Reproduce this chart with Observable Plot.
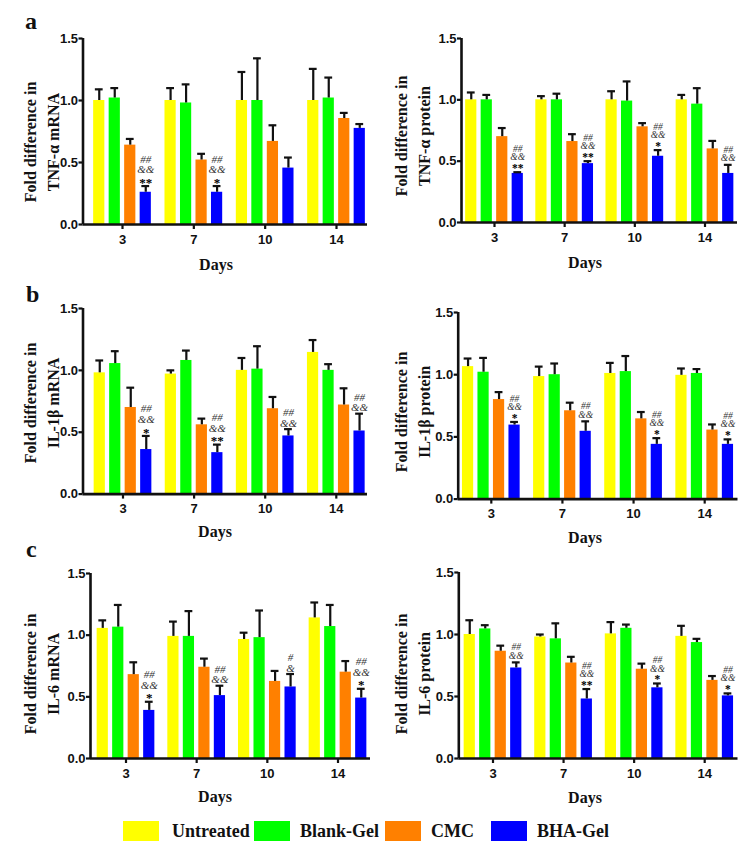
<!DOCTYPE html>
<html>
<head>
<meta charset="utf-8">
<script src="https://cdn.jsdelivr.net/npm/d3@7"></script>
<script src="https://cdn.jsdelivr.net/npm/@observablehq/plot@0.6"></script>
<style>
  html, body { margin: 0; padding: 0; background: #fff; }
  #root { position: relative; width: 751px; height: 850px; background: #fff; overflow: hidden; }
  .panel { position: absolute; }
  .panel svg g[aria-label="x-axis tick"], .panel svg g[aria-label="y-axis tick"] { stroke-width: 2.2px; }
  .txt { position: absolute; font-family: "Liberation Serif", "DejaVu Serif", serif; font-weight: bold; color: #111; white-space: nowrap; }
  .ytitle { font-size: 16px; line-height: 23px; text-align: center; transform: translate(-50%, -50%) rotate(-90deg); }
  .days { font-size: 16px; line-height: 18px; transform: translate(-50%, -50%); }
  .letter { font-size: 24px; line-height: 24px; }
  .sw { position: absolute; width: 36px; height: 20px; }
  .leg { font-size: 18px; line-height: 20px; }
</style>
</head>
<body>
<div id="root"></div>
<script>
// ---------- data ----------
const days = [3, 7, 10, 14];
const groups = ["Untreated", "Blank-Gel", "CMC", "BHA-Gel"];
const colors = ["#ffff00", "#00ff00", "#ff8000", "#0000ff"];
const yTicks = [0, 0.5, 1.0, 1.5];

// rows = days, columns = groups; *Err = top of error bar
const tnfMrnaMean = [[1.00, 1.02, 0.64, 0.26], [1.00, 0.98, 0.52, 0.26], [1.00, 1.00, 0.67, 0.455], [1.00, 1.02, 0.855, 0.775]];
const tnfMrnaErr  = [[1.09, 1.10, 0.69, 0.31], [1.10, 1.13, 0.57, 0.31], [1.23, 1.34, 0.80, 0.54], [1.255, 1.185, 0.90, 0.81]];
const tnfMrnaSig  = [["##", "&&", "**"], ["##", "&&", "*"], [], []];

const tnfProtMean = [[1.00, 1.00, 0.70, 0.40], [1.00, 1.00, 0.66, 0.48], [1.00, 0.99, 0.78, 0.54], [1.00, 0.965, 0.60, 0.40]];
const tnfProtErr  = [[1.06, 1.04, 0.77, 0.41], [1.03, 1.05, 0.72, 0.50], [1.07, 1.15, 0.81, 0.59], [1.04, 1.095, 0.665, 0.47]];
const tnfProtSig  = [["##", "&&", "**"], ["##", "&&", "**"], ["##", "&&", "*"], ["##", "&&"]];

const il1bMrnaMean = [[0.98, 1.055, 0.70, 0.36], [0.97, 1.08, 0.56, 0.335], [1.00, 1.01, 0.69, 0.47], [1.145, 1.00, 0.72, 0.51]];
const il1bMrnaErr  = [[1.08, 1.155, 0.86, 0.47], [1.00, 1.16, 0.61, 0.40], [1.10, 1.195, 0.785, 0.525], [1.245, 1.05, 0.855, 0.65]];
const il1bMrnaSig  = [["##", "&&", "*"], ["##", "&&", "**"], ["##", "&&"], ["##", "&&"]];

const il1bProtMean = [[1.065, 1.02, 0.80, 0.595], [0.985, 1.00, 0.71, 0.545], [1.01, 1.025, 0.645, 0.44], [0.995, 1.01, 0.555, 0.44]];
const il1bProtErr  = [[1.13, 1.135, 0.86, 0.62], [1.065, 1.09, 0.775, 0.625], [1.095, 1.15, 0.70, 0.49], [1.05, 1.045, 0.60, 0.48]];
const il1bProtSig  = [["##", "&&", "*"], ["##", "&&"], ["##", "&&", "*"], ["##", "&&", "*"]];

const il6MrnaMean = [[1.055, 1.065, 0.68, 0.39], [0.99, 0.99, 0.74, 0.51], [0.965, 0.98, 0.625, 0.58], [1.14, 1.07, 0.70, 0.49]];
const il6MrnaErr  = [[1.12, 1.245, 0.78, 0.46], [1.11, 1.195, 0.81, 0.59], [1.02, 1.20, 0.71, 0.685], [1.265, 1.245, 0.79, 0.565]];
const il6MrnaSig  = [["##", "&&", "*"], ["##", "&&"], ["#", "&"], ["##", "&&", "*"]];

const il6ProtMean = [[1.00, 1.045, 0.865, 0.73], [0.98, 0.965, 0.77, 0.48], [1.005, 1.05, 0.72, 0.57], [0.985, 0.935, 0.63, 0.505]];
const il6ProtErr  = [[1.115, 1.075, 0.91, 0.775], [1.00, 1.09, 0.82, 0.56], [1.10, 1.08, 0.765, 0.605], [1.07, 0.965, 0.665, 0.525]];
const il6ProtSig  = [["##", "&&"], ["##", "&&", "**"], ["##", "&&", "*"], ["##", "&&", "*"]];

// ---------- layout ----------
const leftStyle  = {sigSize: 11, starSize: 13, rankDy: [-6, -16.5, -27]};
const rightStyle = {sigSize: 9.5, starSize: 11.5, rankDy: [-6.5, -15, -23.5]};
const panels = [
  {mean: tnfMrnaMean, err: tnfMrnaErr, sig: tnfMrnaSig, title: "TNF-α mRNA", left: 0, ax: 82.5, xr: 367, c0: 122, c3: 336, y15: 38, y0: 224, tx: 41.5, ty: 141.5, dx: 216, dy: 265, st: leftStyle},
  {mean: tnfProtMean, err: tnfProtErr, sig: tnfProtSig, title: "TNF-α protein", left: 375, ax: 461, xr: 737, c0: 494, c3: 704.5, y15: 37.7, y0: 221.7, tx: 413, ty: 136, dx: 585, dy: 263, st: rightStyle},
  {mean: il1bMrnaMean, err: il1bMrnaErr, sig: il1bMrnaSig, title: "IL-1β mRNA", left: 0, ax: 82.5, xr: 367, c0: 122.5, c3: 335.8, y15: 307.7, y0: 493.3, tx: 41.5, ty: 402.5, dx: 215, dy: 532, st: leftStyle},
  {mean: il1bProtMean, err: il1bProtErr, sig: il1bProtSig, title: "IL-1β protein", left: 375, ax: 457.7, xr: 737.5, c0: 490.8, c3: 704.2, y15: 311.7, y0: 498.3, tx: 413, ty: 412, dx: 585, dy: 538, st: rightStyle},
  {mean: il6MrnaMean, err: il6MrnaErr, sig: il6MrnaSig, title: "IL-6 mRNA", left: 0, ax: 90, xr: 370, c0: 125.5, c3: 337.5, y15: 573.3, y0: 758.3, tx: 41.5, ty: 674, dx: 215, dy: 797, st: leftStyle},
  {mean: il6ProtMean, err: il6ProtErr, sig: il6ProtSig, title: "IL-6 protein", left: 375, ax: 458.3, xr: 737.5, c0: 492.5, c3: 704.2, y15: 572.3, y0: 758.3, tx: 413, ty: 674, dx: 585, dy: 798, st: rightStyle}
];
const letters = [{t: "a", x: 25, y: 9}, {t: "b", x: 26, y: 282}, {t: "c", x: 26, y: 537}];

const root = document.getElementById("root");

function addText(cls, html, x, y) {
  const d = document.createElement("div");
  d.className = "txt " + cls;
  d.style.left = x + "px";
  d.style.top = y + "px";
  d.innerHTML = html;
  root.appendChild(d);
  return d;
}

const barOffPx = [-23.25, -7.75, 7.75, 23.25];

panels.forEach(p => {
  const s = (p.c3 - p.c0) / 3;               // px per day slot
  const dom = [-(p.c0 - p.ax) / s, 3 + (p.xr - p.c3) / s];
  const off = barOffPx.map(v => v / s);
  const hw = 5.6 / s, cap = 3.9 / s;

  const recs = [];
  p.mean.forEach((row, i) => row.forEach((v, g) => recs.push({i, g, group: groups[g], mean: v, err: p.err[i][g]})));

  const lineRecs = [];
  p.sig.forEach((lines, i) => lines.slice().reverse().forEach((t, r) =>
    lineRecs.push({i, r, t, err: p.err[i][3], star: t.includes("*")})));

  const sigMarks = [];
  [0, 1, 2].forEach(r => {
    sigMarks.push(Plot.text(lineRecs.filter(d => d.r === r && !d.star), {
      x: d => d.i + off[3], y: "err", text: "t", dy: p.st.rankDy[r], lineAnchor: "middle",
      fontSize: p.st.sigSize, fontStyle: "italic", fontWeight: "normal",
      fontFamily: "'Liberation Serif', serif", fill: "#333"}));
    sigMarks.push(Plot.text(lineRecs.filter(d => d.r === r && d.star), {
      x: d => d.i + off[3], y: "err", text: "t", dy: p.st.rankDy[r] + 2.5, lineAnchor: "middle",
      fontSize: p.st.starSize, fontWeight: "bold",
      fontFamily: "'Liberation Serif', serif", fill: "#000"}));
  });

  const top = p.y15 - 20;
  const marginTop = 20, marginBottom = 30;
  const height = (p.y0 - top) + marginBottom;
  const marginLeft = p.ax - p.left;
  const width = p.xr - p.left + 8;

  const chart = Plot.plot({
    width, height, marginLeft, marginRight: 8, marginTop, marginBottom,
    style: {background: "transparent", fontFamily: "'Liberation Sans', Arial, sans-serif", fontWeight: "bold", fontSize: "13px", color: "#111", overflow: "visible"},
    x: {domain: dom, ticks: [0, 1, 2, 3], tickFormat: i => String(days[i]), tickSize: 5, tickPadding: 5, label: null},
    y: {domain: [0, 1.5], ticks: yTicks, tickFormat: d => d.toFixed(1), tickSize: 4, tickPadding: 1, label: null},
    color: {domain: groups, range: colors},
    marks: [
      Plot.rect(recs, {x1: d => d.i + off[d.g] - hw, x2: d => d.i + off[d.g] + hw, y1: 0, y2: "mean", fill: "group"}),
      Plot.ruleX(recs, {x: d => d.i + off[d.g], y1: "mean", y2: "err", stroke: "#111", strokeWidth: 2.2}),
      Plot.ruleY(recs, {y: "err", x1: d => d.i + off[d.g] - cap, x2: d => d.i + off[d.g] + cap, stroke: "#111", strokeWidth: 2.2}),
      Plot.ruleY([0], {stroke: "#111", strokeWidth: 2.6}),
      Plot.ruleX([dom[0]], {stroke: "#111", strokeWidth: 2.6}),
      ...sigMarks
    ]
  });

  const wrap = document.createElement("div");
  wrap.className = "panel";
  wrap.style.left = p.left + "px";
  wrap.style.top = top + "px";
  wrap.appendChild(chart);
  root.appendChild(wrap);

  addText("ytitle", "Fold difference in<br>" + p.title, p.tx, p.ty);
  addText("days", "Days", p.dx, p.dy);
});

letters.forEach(l => addText("letter", l.t, l.x, l.y));

// legend
const legX = [123, 254, 385, 491];
const legTextX = [172, 300, 431, 537];
groups.forEach((g, k) => {
  const sw = document.createElement("div");
  sw.className = "sw";
  sw.style.left = legX[k] + "px";
  sw.style.top = "821px";
  sw.style.background = colors[k];
  root.appendChild(sw);
  addText("leg", g, legTextX[k], 821);
});
</script>
</body>
</html>
